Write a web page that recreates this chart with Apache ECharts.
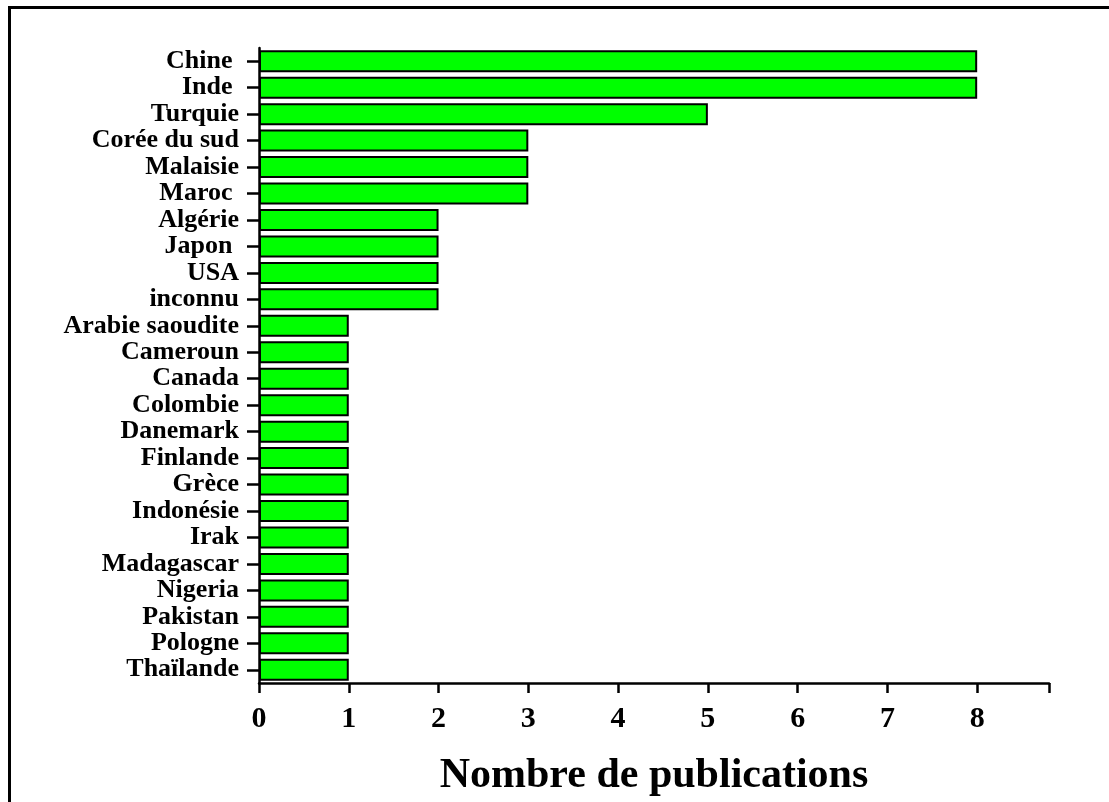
<!DOCTYPE html>
<html>
<head>
<meta charset="utf-8">
<script src="https://cdn.jsdelivr.net/npm/echarts@6/dist/echarts.min.js"></script>
<style>
  html, body { margin: 0; padding: 0; background: #fff; }
  #chart { width: 1109px; height: 802px; }
</style>
</head>
<body>
<div id="chart"></div>
<script>
// pays (de haut en bas)
var pays = ["Chine ", "Inde ", "Turquie", "Corée du sud", "Malaisie", "Maroc ", "Algérie", "Japon ", "USA", "inconnu",
  "Arabie saoudite", "Cameroun", "Canada", "Colombie", "Danemark", "Finlande", "Grèce", "Indonésie", "Irak",
  "Madagascar", "Nigeria", "Pakistan", "Pologne", "Thaïlande"];
// nombre de publications
var publications = [8, 8, 5, 3, 3, 3, 2, 2, 2, 2, 1, 1, 1, 1, 1, 1, 1, 1, 1, 1, 1, 1, 1, 1];
var xTicks = [0, 1, 2, 3, 4, 5, 6, 7, 8];

var font = "'Liberation Serif', 'Times New Roman', serif";
var chart = echarts.init(document.getElementById("chart"));
chart.setOption({
  animation: false,
  backgroundColor: "#fff",
  graphic: [{
    type: "rect",
    shape: { x: 9.5, y: 7.5, width: 1300, height: 1000 },
    style: { fill: "none", stroke: "#000", lineWidth: 3 }
  }],
  grid: { left: 259, top: 48, width: 790, height: 635, containLabel: false },
  xAxis: {
    type: "value",
    min: 0,
    max: 8.8,
    interval: 1,
    name: "Nombre de publications",
    nameLocation: "middle",
    nameGap: 72,
    nameTextStyle: { fontFamily: font, fontWeight: "bold", fontSize: 42, color: "#000" },
    axisLine: { show: true, lineStyle: { color: "#000", width: 2.5 } },
    axisTick: { show: true, length: 10, lineStyle: { color: "#000", width: 2.5 } },
    axisLabel: {
      margin: 21,
      fontFamily: font, fontWeight: "bold", fontSize: 30, color: "#000",
      formatter: function (v) { return xTicks.indexOf(v) >= 0 ? String(v) : ""; }
    },
    splitLine: { show: false }
  },
  yAxis: {
    type: "category",
    data: pays,
    inverse: true,
    axisLine: { show: true, lineStyle: { color: "#000", width: 2.5 } },
    axisTick: { show: true, length: 12, alignWithLabel: true, lineStyle: { color: "#000", width: 2.5 } },
    axisLabel: {
      margin: 20,
      fontFamily: font, fontWeight: "bold", fontSize: 26, color: "#000",
      interval: 0
    }
  },
  series: [{
    type: "bar",
    data: publications,
    barCategoryGap: "17%",
    itemStyle: { color: "#00ff00", borderColor: "#000", borderWidth: 2 }
  }]
});
</script>
</body>
</html>
